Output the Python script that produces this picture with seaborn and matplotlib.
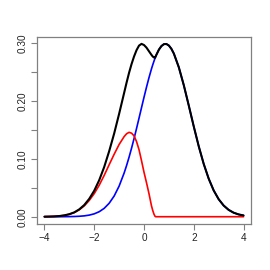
import matplotlib
matplotlib.use("Agg")
import matplotlib.pyplot as plt
import seaborn as sns
import pandas as pd

# ---- data ----
left_x = [-4.0, -3.8, -3.6, -3.4, -3.2, -3.0, -2.8, -2.6, -2.4, -2.2, -2.0,
          -1.8, -1.6, -1.4, -1.2, -1.0, -0.8, -0.7, -0.6, -0.5, -0.4, -0.3,
          -0.2, -0.1, 0.0, 0.1, 0.2, 0.3, 0.35, 0.4, 0.44]
right_x = [0.5, 0.6, 0.7, 0.8, 0.9, 1.0, 1.1, 1.2, 1.4, 1.6, 1.8, 2.0, 2.2,
           2.4, 2.6, 2.8, 3.0, 3.2, 3.4, 3.6, 3.8, 4.0]

blue_left = [0.0000, 0.0000, 0.0000, 0.0000, 0.0001, 0.0002, 0.0004, 0.0008,
             0.0015, 0.0028, 0.0050, 0.0087, 0.0145, 0.0233, 0.0358, 0.0530,
             0.0754, 0.0886, 0.1030, 0.1186, 0.1352, 0.1526, 0.1705, 0.1886,
             0.2066, 0.2240, 0.2405, 0.2557, 0.2626, 0.2690, 0.2738]
blue_right = [0.2803, 0.2891, 0.2952, 0.2985, 0.2988, 0.2961, 0.2905, 0.2822,
              0.2584, 0.2274, 0.1922, 0.1561, 0.1218, 0.0913, 0.0658, 0.0455,
              0.0303, 0.0194, 0.0119, 0.0070, 0.0040, 0.0022]

red_left = [0.0001, 0.0003, 0.0006, 0.0012, 0.0023, 0.0042, 0.0072, 0.0120,
            0.0188, 0.0282, 0.0400, 0.0545, 0.0715, 0.0900, 0.1080, 0.1250,
            0.1385, 0.1435, 0.1460, 0.1445, 0.1400, 0.1300, 0.1160, 0.0970,
            0.0770, 0.0590, 0.0400, 0.0190, 0.0110, 0.0045, 0.0010]
red_right_x = [0.47, 4.0]
red_right = [0.0, 0.0]

black_left = [0.0001, 0.0003, 0.0006, 0.0012, 0.0024, 0.0044, 0.0076, 0.0128,
              0.0203, 0.0310, 0.0450, 0.0632, 0.0860, 0.1133, 0.1438, 0.1780,
              0.2139, 0.2320, 0.2490, 0.2641, 0.2772, 0.2881, 0.2960, 0.2990,
              0.2970, 0.2925, 0.2862, 0.2800, 0.2772, 0.2755, 0.2748]
black_right = [0.2803, 0.2891, 0.2952, 0.2985, 0.2988, 0.2961, 0.2905, 0.2822,
               0.2584, 0.2274, 0.1922, 0.1561, 0.1218, 0.0913, 0.0658, 0.0455,
               0.0303, 0.0194, 0.0119, 0.0070, 0.0040, 0.0022]

x_ticks = [-4, -2, 0, 2, 4]
y_ticks = [0.00, 0.05, 0.10, 0.15, 0.20, 0.25, 0.30]
y_labels = ["0.00", "", "0.10", "", "0.20", "", "0.30"]

# ---- build frames ----
blue_df = pd.DataFrame({"x": left_x + right_x, "y": blue_left + blue_right})
red_df = pd.DataFrame({"x": left_x + red_right_x, "y": red_left + red_right})
black_df = pd.DataFrame({"x": left_x + right_x, "y": black_left + black_right})

sns.set_style("white")
plt.rcParams["font.family"] = ["Liberation Sans", "DejaVu Sans"]

fig = plt.figure(figsize=(2.7, 2.7), dpi=100)
ax = fig.add_axes([37 / 270, 1 - 224.3 / 270, (251 - 37) / 270, (224.3 - 36.7) / 270])

sns.lineplot(data=blue_df, x="x", y="y", color="#0000FF", lw=1.2, sort=False, ax=ax)
sns.lineplot(data=red_df, x="x", y="y", color="#FF0000", lw=1.2, sort=False, ax=ax)
sns.lineplot(data=black_df, x="x", y="y", color="black", lw=1.5, sort=False, ax=ax)

ax.set_xlim(-4.3, 4.3)
ax.set_ylim(-0.0131, 0.3114)
ax.set_xticks(x_ticks)
ax.set_xticklabels([str(t).replace("-", "\u2212") for t in x_ticks])
ax.set_yticks(y_ticks)
ax.set_yticklabels(y_labels, rotation=90, va="center")
ax.set_xlabel("")
ax.set_ylabel("")

for s in ax.spines.values():
    s.set_color("#808080")
    s.set_linewidth(0.9)
ax.tick_params(axis="both", which="both", direction="out", length=4, width=0.8,
               color="#808080", labelsize=7.2, labelcolor="#222222", pad=2,
               bottom=True, left=True)
ax.tick_params(axis="y", pad=3)

fig.savefig("out.png", dpi=100, facecolor="white")
